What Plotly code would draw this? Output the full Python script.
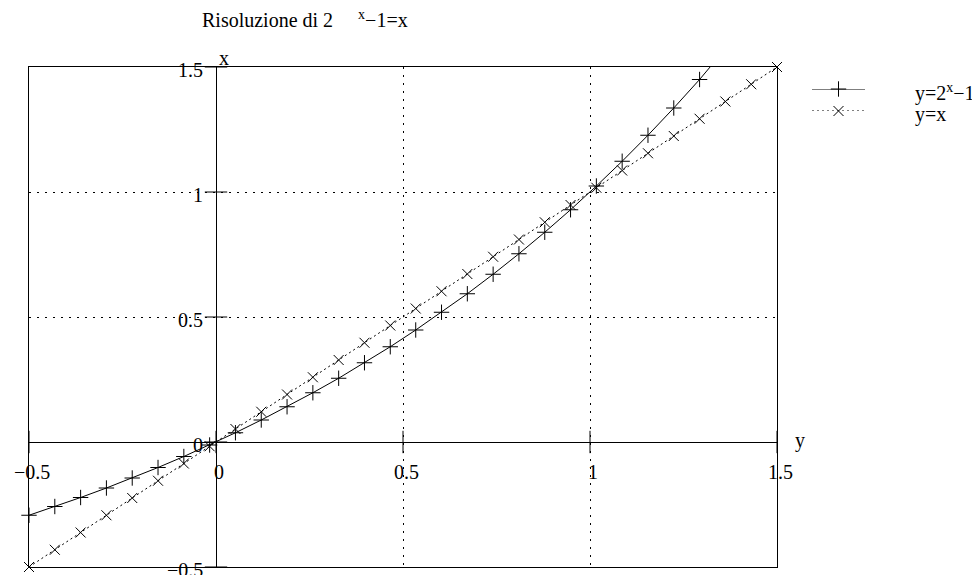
import plotly.graph_objects as go

# sampled abscissae (30 points from -0.5 to 1.5)
X_VALS = [-0.5, -0.431, -0.362, -0.293, -0.224, -0.155, -0.086, -0.017, 0.052, 0.121,
          0.19, 0.259, 0.328, 0.397, 0.466, 0.534, 0.603, 0.672, 0.741, 0.81,
          0.879, 0.948, 1.017, 1.086, 1.155, 1.224, 1.293, 1.362, 1.431, 1.5]
# y = 2^x - 1
Y_EXP = [-0.293, -0.258, -0.222, -0.184, -0.144, -0.102, -0.058, -0.012, 0.037, 0.088,
         0.141, 0.197, 0.255, 0.317, 0.381, 0.448, 0.519, 0.593, 0.671, 0.753,
         0.839, 0.929, 1.024, 1.123, 1.227, 1.336, 1.45, 1.57, 1.696, 1.828]
# y = x
Y_ID = [-0.5, -0.431, -0.362, -0.293, -0.224, -0.155, -0.086, -0.017, 0.052, 0.121,
        0.19, 0.259, 0.328, 0.397, 0.466, 0.534, 0.603, 0.672, 0.741, 0.81,
        0.879, 0.948, 1.017, 1.086, 1.155, 1.224, 1.293, 1.362, 1.431, 1.5]

TICK_VALS = [-0.5, 0, 0.5, 1, 1.5]
TICK_TEXT = ["\u22120.5", "0", "0.5", "1", "1.5"]
LEGEND_NAMES = ["y=2<sup>x</sup>\u22121", "y=x"]
TITLE = "Risoluzione di 2" + "\u00a0" * 5 + "<sup>x</sup>\u22121=x"

X_RANGE = [-0.5, 1.5]
Y_RANGE = [-0.5, 1.5]
FONT = "Liberation Serif, Times New Roman, serif"

W, H = 980, 575
OFF = 8  # the page body adds an 8px margin around the figure


def px_x(p):
    return (p - OFF) / W


def px_y(p):
    return 1 - (p - OFF) / H


exp_line = dict(color='black', width=1)
id_line = dict(color='black', width=1, dash='2px,3px')
plus_marker = dict(symbol='cross-thin', size=11, line=dict(color='black', width=1))
x_marker = dict(symbol='x-thin', size=10, line=dict(color='black', width=1))


def in_range(xs, ys):
    # keep only the points shown inside the frame (markers are not clipped)
    pts = [(a, b) for a, b in zip(xs, ys) if Y_RANGE[0] <= b <= Y_RANGE[1]]
    return [p[0] for p in pts], [p[1] for p in pts]


fig = go.Figure()

# curves
fig.add_trace(go.Scatter(x=X_VALS, y=Y_EXP, mode='lines', line=exp_line,
                         showlegend=False, hoverinfo='skip'))
fig.add_trace(go.Scatter(x=X_VALS, y=Y_ID, mode='lines', line=id_line,
                         showlegend=False, hoverinfo='skip'))
mx, my = in_range(X_VALS, Y_EXP)
fig.add_trace(go.Scatter(x=mx, y=my, mode='markers', marker=plus_marker,
                         cliponaxis=False, showlegend=False))
mx, my = in_range(X_VALS, Y_ID)
fig.add_trace(go.Scatter(x=mx, y=my, mode='markers', marker=x_marker,
                         cliponaxis=False, showlegend=False))

# tick marks crossing the axes through the origin
tick_style = dict(size=16, line=dict(color='black', width=1))
fig.add_trace(go.Scatter(x=TICK_VALS, y=[0] * len(TICK_VALS), mode='markers',
                         marker=dict(symbol='line-ns', **tick_style),
                         cliponaxis=False, showlegend=False, hoverinfo='skip'))
fig.add_trace(go.Scatter(x=[0] * len(TICK_VALS), y=TICK_VALS, mode='markers',
                         marker=dict(symbol='line-ew', **tick_style),
                         cliponaxis=False, showlegend=False, hoverinfo='skip'))

# tick labels
annotations = []
for v, t in zip(TICK_VALS, TICK_TEXT):
    annotations.append(dict(x=v, y=0, xref='x', yref='y', text=t, showarrow=False,
                            xanchor='center', yanchor='top', xshift=3, yshift=-17))
    annotations.append(dict(x=0, y=v, xref='x', yref='y', text=t, showarrow=False,
                            xanchor='right', yanchor='middle', xshift=-11, yshift=-3))

# axis names
annotations.append(dict(x=0, y=Y_RANGE[1], xref='x', yref='y', text='x', showarrow=False,
                        xanchor='left', yanchor='bottom', xshift=1, yshift=-4))
annotations.append(dict(x=X_RANGE[1], y=0, xref='x', yref='y', text='y', showarrow=False,
                        xanchor='left', yanchor='middle', xshift=16, yshift=2))

# legend (drawn by hand on a small side axis)
legend_rows = [1, 0]
for row, line, mk, name in zip(legend_rows, [exp_line, id_line], [plus_marker, x_marker],
                               LEGEND_NAMES):
    fig.add_trace(go.Scatter(x=[0, 1], y=[row, row], mode='lines', line=line,
                             xaxis='x2', yaxis='y2', showlegend=False, hoverinfo='skip'))
    fig.add_trace(go.Scatter(x=[0.5], y=[row], mode='markers', marker=mk, cliponaxis=False,
                             xaxis='x2', yaxis='y2', showlegend=False, hoverinfo='skip'))
    annotations.append(dict(x=px_x(913), y=row, xref='paper', yref='y2', text=name,
                            showarrow=False, xanchor='left', yanchor='middle', yshift=-4))

axis_common = dict(showline=True, mirror=True, linecolor='black', linewidth=1,
                   tickvals=TICK_VALS, showticklabels=False, ticks='',
                   showgrid=True, gridcolor='black', gridwidth=1, griddash='2px,6px',
                   zeroline=True, zerolinecolor='black', zerolinewidth=1)

fig.update_layout(
    width=W, height=H,
    margin=dict(l=0, r=0, t=0, b=0),
    paper_bgcolor='white', plot_bgcolor='white',
    font=dict(family=FONT, size=20, color='black'),
    title=dict(text=TITLE, xref='container', yref='container',
               x=px_x(202), xanchor='left', y=px_y(20), yanchor='middle',
               font=dict(family=FONT, size=20, color='black')),
    xaxis=dict(range=X_RANGE, domain=[px_x(29), px_x(777)], anchor='y', **axis_common),
    yaxis=dict(range=Y_RANGE, domain=[px_y(567), px_y(67)], anchor='x', **axis_common),
    xaxis2=dict(domain=[px_x(812), px_x(865)], range=[0, 1], visible=False, anchor='y2'),
    yaxis2=dict(domain=[px_y(111), px_y(89)], range=[0, 1], visible=False, anchor='x2'),
    annotations=annotations,
    showlegend=False,
)

fig.write_html("out.html")
